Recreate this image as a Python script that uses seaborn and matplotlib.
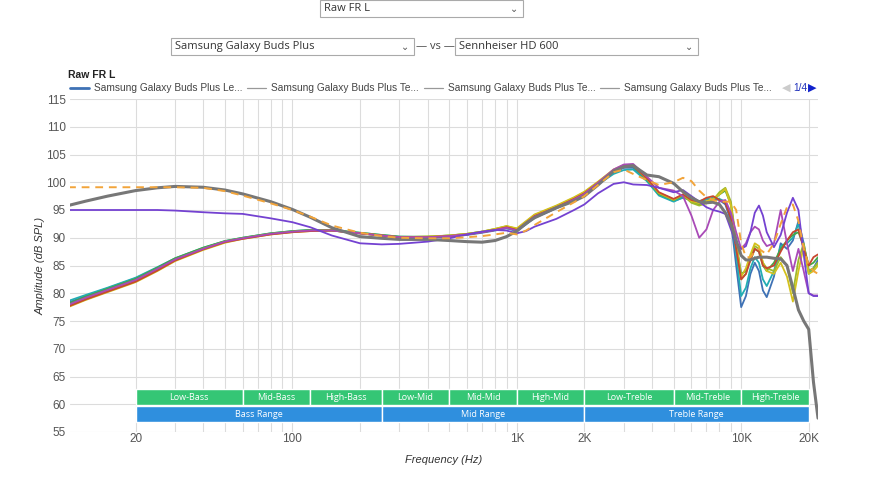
import matplotlib
matplotlib.use("Agg")
import matplotlib.pyplot as plt
import matplotlib.ticker as mticker
from matplotlib.patches import Rectangle
import seaborn as sns

sns.set_theme(style="white")
plt.rcParams['font.family'] = ['Liberation Sans', 'DejaVu Sans']

# frequency points (Hz) shared by all curves
freqs = [10, 12, 15, 20, 25, 30, 40, 50, 60, 80,
         100, 120, 150, 200, 250, 300, 400, 500, 600, 700,
         800, 900, 1000, 1100, 1200, 1500, 1800, 2000, 2300, 2700,
         3000, 3300, 3800, 4300, 5000, 5500, 6000, 6500, 7000, 7500,
         8000, 8500, 9000, 9500, 10000, 10500, 11000, 11500, 12000, 12500,
         13000, 14000, 15000, 16000, 17000, 18000, 19000, 20000, 21000, 22000]

buds_blue = [78.3, 79.5, 80.9, 82.7, 84.6, 86.2, 88.1, 89.3, 89.9, 90.7,
             91.1, 91.3, 91.3, 90.8, 90.4, 90.1, 90.0, 90.2, 90.5, 90.9,
             91.3, 91.7, 91.2, 92.4, 93.6, 95.3, 96.8, 97.8, 99.7, 101.8,
             102.6, 102.6, 100.3, 97.8, 96.6, 97.2, 96.8, 96.5, 96.8, 97.0,
             96.8, 96.0, 93.0, 85.0, 77.5, 79.5, 83.5, 85.5, 84.0, 80.5,
             79.3, 83.0, 89.0, 88.0, 89.5, 93.0, 89.0, 84.0, 84.5, 86.0]
buds_teal = [78.6, 79.7, 81.0, 82.8, 84.7, 86.3, 88.2, 89.4, 90.0, 90.8,
             91.2, 91.4, 91.4, 90.9, 90.5, 90.2, 90.1, 90.3, 90.6, 91.0,
             91.4, 91.8, 91.3, 92.5, 93.7, 95.4, 96.9, 97.9, 99.6, 101.5,
             102.2, 102.3, 100.2, 97.6, 96.5, 97.3, 96.9, 96.6, 97.0, 97.2,
             97.0, 96.5, 94.0, 87.0, 79.5, 81.0, 84.5, 86.5, 85.5, 82.5,
             81.3, 84.0, 88.5, 89.0, 90.0, 92.5, 88.0, 83.5, 84.5, 85.5]
buds_green = [78.1, 79.4, 80.8, 82.6, 84.6, 86.3, 88.2, 89.4, 90.0, 90.8,
              91.2, 91.4, 91.4, 90.9, 90.5, 90.2, 90.2, 90.4, 90.7, 91.1,
              91.5, 92.0, 91.5, 92.8, 94.0, 95.6, 97.1, 98.1, 99.9, 102.1,
              102.9, 102.9, 100.5, 97.9, 96.8, 97.6, 96.5, 96.0, 96.4, 96.8,
              97.8, 98.5, 96.0, 89.0, 83.5, 84.0, 86.0, 88.0, 87.5, 85.0,
              84.0, 85.5, 88.0, 89.5, 90.5, 91.0, 88.5, 85.0, 85.5, 86.5]
buds_olive = [77.8, 79.1, 80.5, 82.2, 84.2, 86.0, 88.0, 89.3, 89.9, 90.7,
              91.1, 91.3, 91.3, 90.8, 90.4, 90.1, 90.2, 90.4, 90.7, 91.1,
              91.6, 92.1, 91.6, 92.9, 94.1, 95.7, 97.2, 98.2, 100.0, 102.2,
              103.0, 103.0, 100.6, 98.0, 96.8, 97.7, 96.3, 95.8, 96.2, 96.8,
              98.2, 99.0, 96.5, 89.5, 82.5, 83.5, 86.5, 88.5, 88.0, 85.5,
              84.5, 84.0, 86.5, 85.0, 80.0, 86.0, 89.0, 84.0, 84.5, 85.5]
buds_yellow = [77.5, 78.8, 80.2, 82.0, 84.0, 85.8, 87.8, 89.1, 89.8, 90.6,
               91.0, 91.2, 91.3, 90.8, 90.4, 90.1, 90.2, 90.4, 90.7, 91.1,
               91.6, 92.1, 91.7, 93.0, 94.2, 95.8, 97.3, 98.3, 100.1, 102.3,
               103.1, 103.1, 100.7, 98.1, 96.9, 97.8, 96.6, 96.2, 96.6, 97.0,
               97.8, 98.8, 95.8, 89.0, 83.0, 84.5, 87.0, 89.0, 88.5, 85.5,
               84.0, 83.5, 85.5, 83.0, 78.5, 84.0, 88.5, 83.5, 84.0, 85.0]
buds_red = [77.6, 78.9, 80.3, 82.1, 84.1, 85.9, 87.9, 89.2, 89.8, 90.6,
            91.0, 91.2, 91.3, 90.8, 90.4, 90.1, 90.1, 90.3, 90.6, 91.0,
            91.4, 91.9, 91.4, 92.7, 93.9, 95.5, 97.0, 98.0, 99.9, 102.1,
            102.9, 103.0, 100.7, 98.2, 97.0, 97.8, 96.8, 96.5, 97.2, 97.5,
            96.8, 96.3, 93.5, 88.0, 82.5, 83.5, 86.0, 88.0, 87.5, 85.0,
            84.5, 85.0, 87.5, 89.5, 91.0, 91.5, 88.0, 85.0, 86.5, 87.0]
buds_magenta = [77.9, 79.2, 80.6, 82.4, 84.4, 86.1, 88.0, 89.3, 89.9, 90.7,
                91.1, 91.3, 91.3, 90.8, 90.4, 90.1, 90.1, 90.3, 90.6, 91.0,
                91.4, 91.8, 91.3, 92.6, 93.8, 95.4, 96.9, 97.9, 99.9, 102.3,
                103.2, 103.3, 101.0, 99.0, 98.5, 97.5, 94.0, 90.0, 91.5, 95.0,
                96.5, 96.8, 94.5, 91.0, 88.0, 89.0, 91.0, 92.0, 91.5, 89.5,
                88.5, 89.0, 95.0, 89.0, 84.0, 88.0, 84.0, 80.0, 79.6, 79.6]
hd600 = [95.0, 95.0, 95.0, 95.0, 95.0, 94.9, 94.6, 94.4, 94.3, 93.5,
         92.8, 91.9, 90.4, 89.0, 88.8, 88.9, 89.3, 89.9, 90.6, 91.1,
         91.4, 91.3, 90.8, 91.2, 92.0, 93.4, 95.0, 96.0, 98.0, 99.7,
         100.0, 99.6, 99.5, 99.0, 98.2, 98.6, 97.5, 96.5, 95.5, 95.0,
         94.7, 94.3, 91.5, 89.0, 88.0, 88.5, 91.0, 94.5, 95.8, 94.0,
         91.0, 88.3, 90.5, 94.5, 97.2, 95.0, 87.0, 80.0, 79.5, 79.5]
target = [95.8, 96.6, 97.5, 98.5, 99.0, 99.25, 99.1, 98.6, 97.9, 96.5,
          95.1, 93.7, 91.8, 90.2, 89.9, 89.7, 89.7, 89.5, 89.3, 89.2,
          89.5, 90.2, 91.2, 92.6, 93.6, 95.4, 96.6, 97.5, 99.5, 102.0,
          102.8, 103.0, 101.3, 101.0, 99.8, 98.3, 97.2, 96.5, 96.3, 96.4,
          96.0, 94.5, 92.5, 89.5, 86.8, 86.0, 86.0, 86.3, 86.5, 86.5,
          86.5, 86.3, 86.2, 85.0, 81.0, 77.0, 75.0, 73.5, 64.0, 57.5]
harman = [99.1, 99.1, 99.1, 99.1, 99.1, 99.1, 99.0, 98.4, 97.6, 96.2,
          95.0, 93.8, 92.2, 90.9, 90.3, 90.0, 89.9, 89.9, 90.1, 90.3,
          90.6, 90.9, 90.6, 91.3, 92.3, 94.6, 96.4, 97.5, 99.5, 101.8,
          102.3, 101.5, 100.4, 99.5, 100.0, 100.8, 100.2, 98.5, 97.3, 96.8,
          96.5, 96.5, 96.5, 95.0, 89.0, 86.5, 86.5, 87.5, 88.0, 87.5,
          87.0, 89.0, 92.5, 95.5, 96.0, 93.0, 88.0, 85.0, 84.0, 83.5]

curves = [
    (buds_blue, "#3f72b5"),
    (buds_teal, "#22adb3"),
    (buds_green, "#44a847"),
    (buds_olive, "#9db92c"),
    (buds_yellow, "#d3c11e"),
    (buds_red, "#c7472f"),
    (buds_magenta, "#a94ab7"),
    (hd600, "#7442d1"),
]

band_edges = [20, 60, 120, 250, 500, 1000, 2000, 5000, 10000, 20000]
band_names = ["Low-Bass", "Mid-Bass", "High-Bass", "Low-Mid", "Mid-Mid",
              "High-Mid", "Low-Treble", "Mid-Treble", "High-Treble"]
range_edges = [20, 250, 2000, 20000]
range_names = ["Bass Range", "Mid Range", "Treble Range"]

fig = plt.figure(figsize=(8.8, 4.8), dpi=100)
ax = fig.add_axes([70 / 880, 1 - 432 / 480, 748 / 880, 333 / 480])

for vals, col in curves:
    sns.lineplot(x=freqs, y=vals, ax=ax, color=col, lw=1.3, zorder=3)
sns.lineplot(x=freqs, y=target, ax=ax, color="#777777", lw=2.2, zorder=4)
ax.plot(freqs, harman, color="#f2a43a", lw=1.4, ls=(0, (4, 3)), zorder=4)

ax.set_xscale("log")
ax.set_xlim(10.2, 22000)
ax.set_ylim(55, 115)
ax.set_yticks(range(55, 116, 5))
ax.xaxis.set_major_locator(mticker.FixedLocator([20, 100, 1000, 2000, 10000, 20000]))
ax.xaxis.set_major_formatter(mticker.FixedFormatter(["20", "100", "1K", "2K", "10K", "20K"]))
ax.xaxis.set_minor_locator(mticker.LogLocator(base=10, subs=range(1, 10), numticks=20))
ax.xaxis.set_minor_formatter(mticker.NullFormatter())
ax.grid(True, which="both", color="#dcdcdc", lw=0.8)
for s in ax.spines.values():
    s.set_visible(False)
ax.tick_params(axis="both", which="both", length=0, labelsize=8.5, colors="#555555", pad=3)
ax.tick_params(axis="x", pad=1)
ax.set_xlabel("Frequency (Hz)", fontsize=8, style="italic", color="#333333")
ax.set_ylabel("Amplitude (dB SPL)", fontsize=8, style="italic", color="#333333")
ax.xaxis.set_label_coords(0.5, -0.07)
ax.yaxis.set_label_coords(-0.033, 0.5)

# frequency band bars
tr = ax.get_xaxis_transform()
for i, nm in enumerate(band_names):
    a, b = band_edges[i], band_edges[i + 1]
    ax.add_patch(Rectangle((a, 0.081), b - a, 0.048, transform=tr, facecolor="#35c675",
                           edgecolor="white", lw=1, zorder=5))
    ax.text((a * b) ** 0.5, 0.105, nm, transform=tr, ha="center", va="center",
            color="white", fontsize=6.5, family=["Open Sans", "DejaVu Sans"], zorder=6)
for i, nm in enumerate(range_names):
    a, b = range_edges[i], range_edges[i + 1]
    ax.add_patch(Rectangle((a, 0.030), b - a, 0.048, transform=tr, facecolor="#2f8fde",
                           edgecolor="white", lw=1, zorder=5))
    ax.text((a * b) ** 0.5, 0.054, nm, transform=tr, ha="center", va="center",
            color="white", fontsize=6.5, family=["Open Sans", "DejaVu Sans"], zorder=6)

# title + legend row
fig.text(68 / 880, 1 - 75 / 480, "Raw FR L", fontsize=7.5, weight="bold", color="#222222", va="center")
leg_x = [70, 247, 424, 600]
leg_labels = ["Samsung Galaxy Buds Plus Le...", "Samsung Galaxy Buds Plus Te...",
              "Samsung Galaxy Buds Plus Te...", "Samsung Galaxy Buds Plus Te..."]
for i, (lx, lab) in enumerate(zip(leg_x, leg_labels)):
    yy = 1 - 88 / 480
    fig.add_artist(plt.Line2D([lx / 880, (lx + 19) / 880], [yy, yy],
                              color="#3f72b5" if i == 0 else "#999999", lw=2 if i == 0 else 0.9))
    fig.text((lx + 24) / 880, yy, lab, fontsize=7.3, color="#444444", va="center")
fig.text(782 / 880, 1 - 88 / 480, "◀", fontsize=8, color="#cccccc", va="center",
         family=["DejaVu Sans"])
fig.text(793 / 880, 1 - 88 / 480, "1/4", fontsize=7.3, color="#2233bb", va="center")
fig.text(808 / 880, 1 - 88 / 480, "▶", fontsize=8, color="#1122cc", va="center",
         family=["DejaVu Sans"])

# dropdown widgets at the top
def dropdown(x0, x1, y0, y1, label):
    fig.add_artist(Rectangle((x0 / 880, 1 - y1 / 480), (x1 - x0) / 880, (y1 - y0) / 480,
                             transform=fig.transFigure, facecolor="white",
                             edgecolor="#aaaaaa", lw=0.8))
    yc = 1 - (y0 + y1) / 2 / 480
    fig.text((x0 + 4) / 880, yc, label, fontsize=8, color="#333333", va="center",
             family=["Open Sans", "DejaVu Sans"])
    fig.text((x1 - 9) / 880, yc, "⌄", fontsize=7, color="#555555", va="center",
             ha="center", family=["DejaVu Sans"])

dropdown(320, 523, 0, 17, "Raw FR L")
dropdown(171, 414, 38, 55, "Samsung Galaxy Buds Plus")
dropdown(455, 698, 38, 55, "Sennheiser HD 600")
fig.text(435 / 880, 1 - 46.5 / 480, "— vs —", fontsize=8, color="#444444", va="center",
         ha="center", family=["Open Sans", "DejaVu Sans"])

fig.savefig("out.png", dpi=100, facecolor="white")
